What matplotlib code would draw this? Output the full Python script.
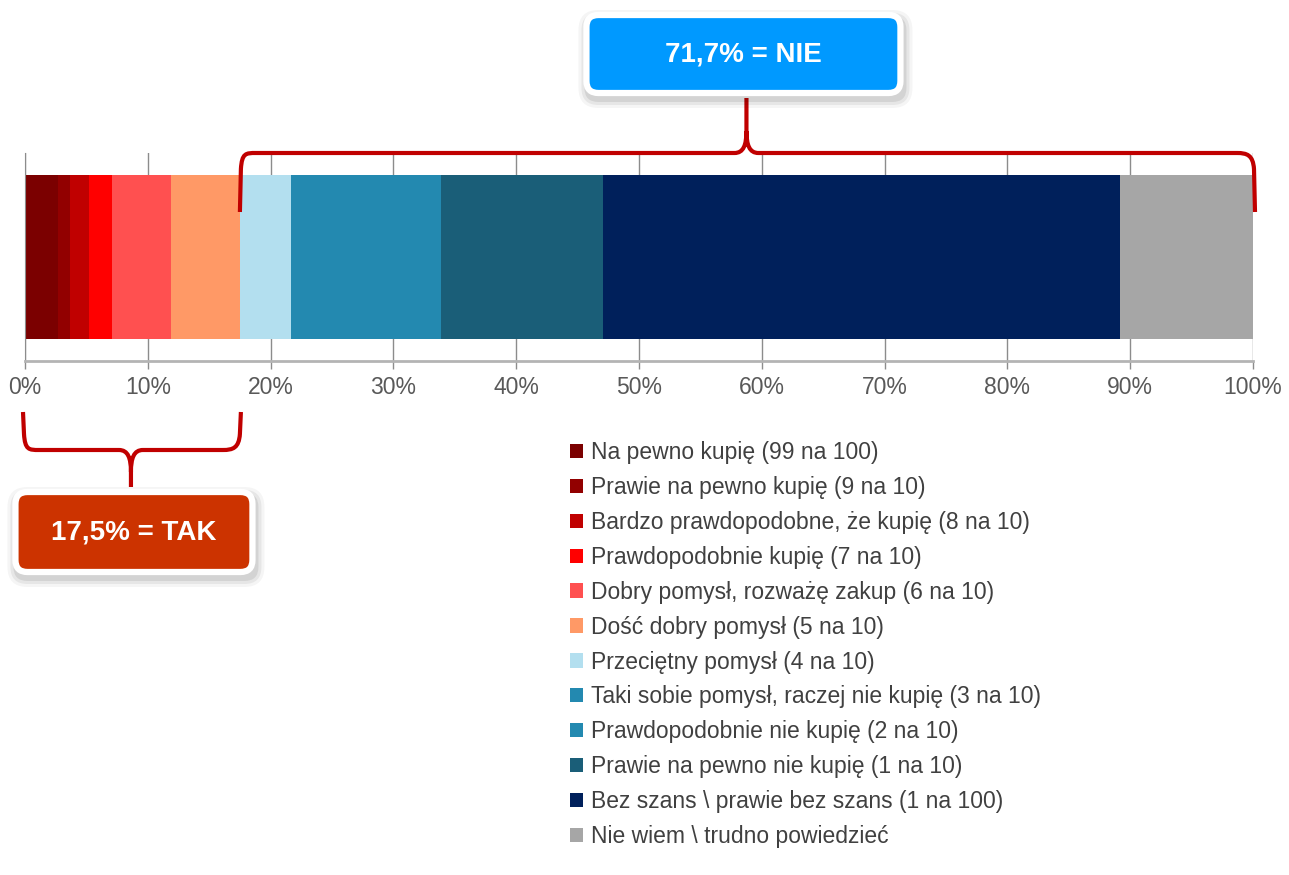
import numpy as np
import matplotlib.pyplot as plt
from matplotlib.patches import Patch, FancyBboxPatch, PathPatch
from matplotlib.path import Path

plt.rcParams['font.family'] = ['Liberation Sans', 'DejaVu Sans']

# --------------------------------------------------
# Data (share of answers, %)
# --------------------------------------------------
categories = [
    "Na pewno kupię (99 na 100)",
    "Prawie na pewno kupię (9 na 10)",
    "Bardzo prawdopodobne, że kupię (8 na 10)",
    "Prawdopodobnie kupię (7 na 10)",
    "Dobry pomysł, rozważę zakup (6 na 10)",
    "Dość dobry pomysł (5 na 10)",
    "Przeciętny pomysł (4 na 10)",
    "Taki sobie pomysł, raczej nie kupię (3 na 10)",
    "Prawdopodobnie nie kupię (2 na 10)",
    "Prawie na pewno nie kupię (1 na 10)",
    "Bez szans \\ prawie bez szans (1 na 100)",
    "Nie wiem \\ trudno powiedzieć",
]
values = [2.7, 1.0, 1.5, 1.9, 4.8, 5.6, 4.2, 6.0, 6.2, 13.2, 42.1, 10.8]
colors = ["#7B0000", "#920000", "#C00000", "#FF0000", "#FF5050", "#FF9966",
          "#B3DFEF", "#2389B0", "#2389B0", "#1A5E78", "#00205B", "#A6A6A6"]
tick_values = [0, 10, 20, 30, 40, 50, 60, 70, 80, 90, 100]
tick_labels = ["0%", "10%", "20%", "30%", "40%", "50%", "60%", "70%", "80%", "90%", "100%"]

yes_label = "17,5% = TAK"
no_label = "71,7% = NIE"
n_yes = 6  # first six answers = TAK

W, H = 1289, 875
fig = plt.figure(figsize=(W / 100, H / 100), dpi=100)
ax = fig.add_axes([25 / W, 1 - 361 / H, 1228 / W, 208 / H])

left = 0
for v, c, lab in zip(values, colors, categories):
    ax.barh(0, v, left=left, height=0.793, color=c, label=lab, zorder=2)
    left += v

ax.set_xlim(0, 100)
ax.set_ylim(-0.5, 0.5)
ax.set_xticks(tick_values)
ax.set_xticklabels(tick_labels, fontsize=16.5, color="#595959")
ax.set_yticks([])
ax.grid(axis="x", color="#8C8C8C", linewidth=1)
ax.set_axisbelow(True)
for s in ["top", "right"]:
    ax.spines[s].set_visible(False)
ax.spines["left"].set_color("#8C8C8C")
ax.spines["bottom"].set_color("#B4B4B4")
ax.spines["bottom"].set_linewidth(2)
ax.tick_params(axis="x", length=6, width=1, color="#8C8C8C", pad=5)

# legend
handles = [Patch(facecolor=c, edgecolor="none") for c in colors]
fig.legend(handles, categories, loc="upper left", bbox_to_anchor=(570 / W, 1 - 441 / H),
           frameon=False, fontsize=16.5, labelcolor="#404040", handlelength=0.58,
           handleheight=0.58, handletextpad=0.33, labelspacing=0.52, borderpad=0,
           borderaxespad=0)

# --------------------------------------------------
# Braces and callouts (overlay in pixel coords)
# --------------------------------------------------
ov = fig.add_axes([0, 0, 1, 1], zorder=5)
ov.set_xlim(0, W)
ov.set_ylim(H, 0)
ov.axis("off")


def px(xval):
    return ax.transData.transform((xval, 0))[0]


def brace(x0, x1, y_end, y_flat, y_tip):
    s = 1 if y_tip < y_flat else -1  # direction of the tip (up = 1)
    xm = (x0 + x1) / 2
    verts = [
        (x0, y_end), (x0 + 1, y_flat + s * 16),
        (x0 + 2, y_flat), (x0 + 6, y_flat), (x0 + 16, y_flat),
        (xm - 12, y_flat),
        (xm - 3, y_flat), (xm, y_flat - s * 8), (xm, y_flat - s * 22),
        (xm, y_tip),
        (xm, y_flat - s * 22),
        (xm, y_flat - s * 8), (xm + 3, y_flat), (xm + 12, y_flat),
        (x1 - 16, y_flat),
        (x1 - 6, y_flat), (x1, y_flat + s * 2), (x1 + 1, y_flat + s * 16),
        (x1 + 2, y_end),
    ]
    codes = [Path.MOVETO, Path.LINETO,
             Path.CURVE4, Path.CURVE4, Path.CURVE4,
             Path.LINETO,
             Path.CURVE4, Path.CURVE4, Path.CURVE4,
             Path.LINETO,
             Path.MOVETO,
             Path.CURVE4, Path.CURVE4, Path.CURVE4,
             Path.LINETO,
             Path.CURVE4, Path.CURVE4, Path.CURVE4,
             Path.LINETO]
    ov.add_patch(PathPatch(Path(verts, codes), fill=False, edgecolor="#C00000",
                           linewidth=3, capstyle="butt", joinstyle="round"))
    return xm


def callout(xc, yc, w, h, fc, text):
    x0, y0 = xc - w / 2, yc - h / 2
    for k, a in [(10, 0.04), (7, 0.06), (4, 0.08)]:
        ov.add_patch(FancyBboxPatch((x0 + 2, y0 + 5), w, h,
                                    boxstyle=f"round,pad={k},rounding_size={10 + k}",
                                    facecolor="black", edgecolor="none", alpha=a))
    ov.add_patch(FancyBboxPatch((x0, y0), w, h, boxstyle="round,pad=0,rounding_size=12",
                                facecolor=fc, edgecolor="white", linewidth=4.5))
    ov.text(xc, yc + 1, text, ha="center", va="center", color="white", fontsize=20,
            fontweight="bold")


yes_total = sum(values[:n_yes])
xm_no = brace(px(yes_total), px(100), 212, 153, 98)
xm_yes = brace(px(0) - 2, px(yes_total) - 1, 412, 450, 487)

callout(xm_no - 3, 54, 314, 78, "#0099FF", no_label)
callout(xm_yes + 3, 532, 237, 80, "#CC3300", yes_label)

fig.savefig("out.png", dpi=100)
